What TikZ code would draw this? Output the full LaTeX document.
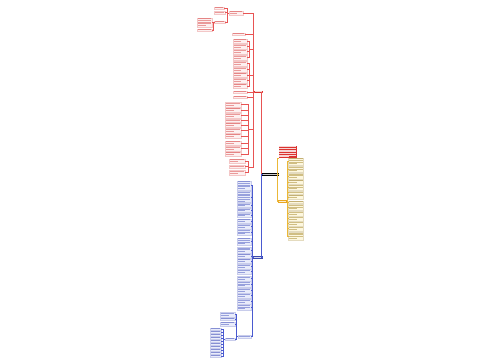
\documentclass[tikz,border=0pt]{standalone}
\usetikzlibrary{calc}
\definecolor{rtxt}{HTML}{D84545}
\definecolor{rfill}{HTML}{FDF0F0}
\definecolor{rline}{HTML}{E85454}
\definecolor{btxt}{HTML}{4756BE}
\definecolor{bfill}{HTML}{E9ECFB}
\definecolor{bline}{HTML}{4A5AD0}
\definecolor{ytxt}{HTML}{A5862A}
\definecolor{yfill}{HTML}{FDF7DE}
\definecolor{yline}{HTML}{EBB838}
\definecolor{rhub}{HTML}{DB3430}
\definecolor{bhub}{HTML}{3A49AC}
\definecolor{yhub}{HTML}{EAA620}
\tikzset{
  leafbox/.style={rectangle, inner sep=0pt, outer sep=0pt, fill=#1fill, draw=#1txt!30, line width=0.2pt},
  hubbox/.style={rectangle, inner sep=0pt, outer sep=0pt, fill=#1, draw=none},
  rlink/.style={draw=rline, line width=0.7pt},
  blink/.style={draw=bline, line width=0.7pt},
  ylink/.style={draw=yline, line width=0.7pt},
}
\newcommand\mmleaf[6]{%
  \pgfmathsetmacro\mLW{#3-#2}%
  \pgfmathsetmacro\mLH{#5*1.7+0.9}%
  \node[leafbox=#6, minimum width=\mLW pt, minimum height=\mLH pt, anchor=west] (#1) at (#2,#4) {};%
  \foreach \k in {1,...,#5}{%
    \pgfmathsetmacro\mLL{(\k==#5 && #5>1) ? 0.6*(\mLW-1.4) : (\mLW-1.4)}%
    \fill[#6txt, opacity=.5] ($(#1.north west)+(0.7,{0.55+(\k-1)*1.7})$) rectangle ++(\mLL,0.65);%
  }%
}
\newcommand\mmhub[6]{%
  \pgfmathsetmacro\mLW{#3-#2}%
  \pgfmathsetmacro\mLH{#5*1.7+0.9}%
  \node[hubbox=#6, minimum width=\mLW pt, minimum height=\mLH pt, anchor=west] (#1) at (#2,#4) {};%
  \foreach \k in {1,...,#5}{%
    \pgfmathsetmacro\mLL{(\k==#5 && #5>1) ? 0.6*(\mLW-1.4) : (\mLW-1.4)}%
    \fill[white, opacity=.8] ($(#1.north west)+(0.7,{0.55+(\k-1)*1.7})$) rectangle ++(\mLL,0.65);%
  }%
}
\begin{document}
\begin{tikzpicture}[x=1pt,y=-1pt]
\fill[white] (0,0) rectangle (500,360);
\useasboundingbox (0,0) rectangle (500,360);

% ---- center and hubs
\mmhub{C}{262}{279}{174.5}{1}{black}
\mmhub{R0}{254}{263}{92}{1}{rhub}
\mmhub{B0}{253}{263}{257.5}{1}{bhub}
\mmhub{Y0}{278}{287}{201.5}{1}{yhub}
\mmhub{T}{278.5}{297}{152}{7}{rhub}
\draw[rlink] (C.west) -- ++(-0.5,0) |- (R0.east);
\draw[blink] (C.west) -- ++(-0.5,0) |- (B0.east);
\draw[ylink] (C.east) -- ++(-1.5,0) |- (T.south west) (C.east) -- ++(-1.5,0) |- (Y0.west);

% ---- red branch
\coordinate (RJ) at (253.5,92);
\mmleaf{ra}{229}{243}{13}{2}{r}
\mmleaf{ra1}{214}{224}{8}{1}{r}
\mmleaf{ra2}{214}{225}{12.5}{1}{r}
\mmleaf{ra3}{214}{225}{22}{1}{r}
\draw[rlink] \foreach \n in {ra1,ra2,ra3}{(ra.west) -- ++(-1.5,0) |- (\n.east)};
\mmleaf{ra31}{197}{212}{22.5}{5}{r}
\mmleaf{ra32}{197}{212}{30}{1}{r}
\draw[rlink] \foreach \n in {ra31,ra32}{(ra3.west) -- ++(-0.5,0) |- (\n.east)};
\mmleaf{rb}{232}{245}{34}{1}{r}
\coordinate (G1) at (249.5,49);
\foreach \i/\y/\n in {1/41/2,2/46.5/2,3/51.5/2,4/57.5/2}{
  \mmleaf{ga\i}{233}{247}{\y}{\n}{r}
}
\draw[rlink] \foreach \i in {1,...,4}{(G1) |- (ga\i.east)};
\coordinate (G2) at (249.5,75);
\foreach \i/\y/\n in {1/63.5/2,2/69.5/2,3/75/2,4/80.5/2,5/86/2}{
  \mmleaf{gb\i}{233}{247}{\y}{\n}{r}
}
\draw[rlink] \foreach \i in {1,...,5}{(G2) |- (gb\i.east)};
\mmleaf{rd}{233}{247}{92}{1}{r}
\mmleaf{re}{233}{247}{97}{1}{r}
\coordinate (G3) at (248.5,129);
\foreach \i/\y/\n in {1/104.5/2,2/110/2,3/115.5/2,4/120.5/1,5/125/2,6/130.5/2,7/136/2,8/143/2,9/148.5/2,10/154/2}{
  \mmleaf{gc\i}{225}{241}{\y}{\n}{r}
}
\draw[rlink] \foreach \i in {1,...,10}{(G3) |- (gc\i.east)};
\coordinate (G4) at (248.5,167);
\foreach \i/\y/\n in {1/161/2,2/166.5/1,3/172.5/2}{
  \mmleaf{gd\i}{229}{245}{\y}{\n}{r}
}
\draw[rlink] \foreach \i in {1,...,3}{(G4) |- (gd\i.east)};
\draw[rlink] (R0.west) -- (RJ) \foreach \n in {ra,rb,rd,re}{(RJ) |- (\n.east)}
  \foreach \g in {G1,G2,G3,G4}{(RJ) |- (\g)};

% ---- blue branch
\coordinate (BJ) at (252.5,257.5);
\foreach \i/\y/\n in {1/185.5/5,2/197/6,3/205.3/2,4/210.3/2,5/215.3/2,6/221/2,7/226.5/2,8/232.5/3,9/241.5/4,10/250/3,11/256/2,12/261/2,13/266.5/2,14/271.5/2,15/278.5/2,16/284.5/3,17/290.5/2,18/295.5/2,19/301.5/2,20/307.5/3}{
  \mmleaf{b\i}{237}{251}{\y}{\n}{b}
}
\mmleaf{bp}{238}{251}{336.5}{1}{b}
\draw[blink] (B0.west) -- (BJ) \foreach \i in {1,...,20}{(BJ) |- (b\i.east)} (BJ) |- (bp.east);
\mmleaf{bq1}{220}{235}{314.5}{2}{b}
\mmleaf{bq2}{220}{235}{319}{1}{b}
\mmleaf{bq3}{220}{235}{324}{2}{b}
\mmleaf{bq4}{225}{235}{339}{1}{b}
\draw[blink] \foreach \n in {bq1,bq2,bq3,bq4}{(bp.west) -- ++(-1.5,0) |- (\n.east)};
\foreach \i/\y in {1/329,2/332,3/335,4/338,5/341,6/344,7/347,8/350,9/353,10/356}{
  \mmleaf{bl\i}{210}{221}{\y}{1}{b}
}
\draw[blink] \foreach \i in {1,...,10}{(bq4.west) -- ++(-1.5,0) |- (bl\i.east)};

% ---- yellow branch
\coordinate (YJ) at (287.5,201.5);
\foreach \i/\y/\n in {1/161.5/4,2/169.5/3,3/176/3,4/182/2,5/187.5/3,6/192.5/1,7/197/2,8/202/1,9/207.5/3,10/213.5/2,11/218.5/2,12/223.5/2,13/228.5/2,14/236/4}{
  \mmleaf{y\i}{288.5}{303.5}{\y}{\n}{y}
}
\draw[ylink] (Y0.east) -- (YJ) \foreach \i in {1,...,14}{(YJ) |- (y\i.west)};
\end{tikzpicture}
\end{document}
